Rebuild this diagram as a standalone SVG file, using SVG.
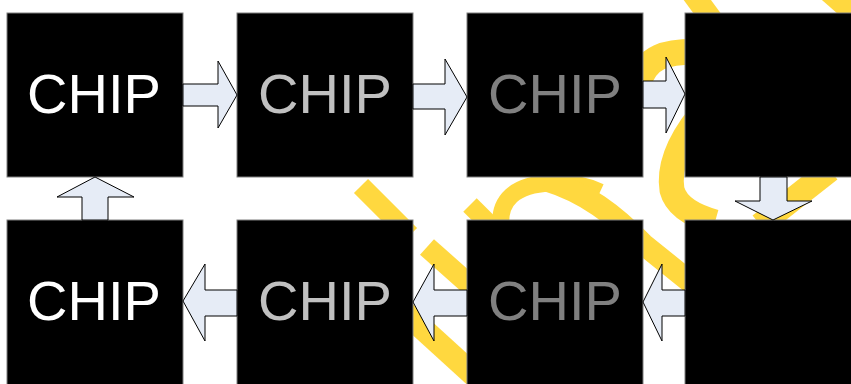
<svg xmlns="http://www.w3.org/2000/svg" width="851" height="384" viewBox="0 0 851 384">
<style>
.wm{fill:none;stroke:#FFD83F;stroke-linecap:butt}
.box{fill:#000;stroke:#7f7f7f;stroke-width:1}
.lbl{font-family:"Liberation Sans",Arial,sans-serif;font-size:56px;text-anchor:middle}
.arr{fill:#E6ECF6;stroke:#000;stroke-width:1;stroke-linejoin:miter}
</style>
<rect width="851" height="384" fill="#fff"/>
<g id="watermark">
<path class="wm" stroke-width="20" d="M361,186 L410,235"/>
<path class="wm" stroke-width="21" d="M427,247 L500,312"/>
<path class="wm" stroke-width="23" d="M400,308 L490,390"/>
<path class="wm" stroke-width="19" d="M470,205 L505,240"/>
<path class="wm" stroke-width="17" d="M501,228 C498,200 515,185 550,183 C570,182 585,185 600,192"/>
<path class="wm" stroke-width="22" d="M545,180 C585,192 615,215 643,244 L705,294"/>
<path class="wm" stroke-width="26" d="M638,85 C645,57 665,50 705,52"/>
<path class="wm" stroke-width="25" d="M700,115 C680,140 668,165 672,190 C676,205 690,215 715,222"/>
<path class="wm" stroke-width="24" d="M830,170 L760,225"/>
<path class="wm" stroke-width="22" d="M690,-10 L712,20"/>
<path class="wm" stroke-width="20" d="M820,-15 L860,20"/>
</g>
<g id="chip1"><rect class="box" x="7" y="13" width="176" height="164"/><text class="lbl" x="94" y="113" fill="#fff">CHIP</text></g>
<g id="chip2"><rect class="box" x="237" y="13" width="176" height="164"/><text class="lbl" x="325" y="113" fill="#C0C0C0">CHIP</text></g>
<g id="chip3"><rect class="box" x="467" y="13" width="176" height="164"/><text class="lbl" x="555" y="113" fill="#808080">CHIP</text></g>
<g id="chip4"><rect class="box" x="685" y="13" width="176" height="164"/></g>
<g id="chip5"><rect class="box" x="685" y="220" width="176" height="170"/></g>
<g id="chip6"><rect class="box" x="467" y="220" width="176" height="170"/><text class="lbl" x="555" y="320" fill="#808080">CHIP</text></g>
<g id="chip7"><rect class="box" x="237" y="220" width="176" height="170"/><text class="lbl" x="325" y="320" fill="#C0C0C0">CHIP</text></g>
<g id="chip8"><rect class="box" x="7" y="220" width="176" height="170"/><text class="lbl" x="94" y="320" fill="#fff">CHIP</text></g>
<g id="connectors">
<path class="arr" d="M183,84 L218,84 L218,61 L237,95 L218,128 L218,106 L183,106 Z"/>
<path class="arr" d="M413,84 L445,84 L445,59 L467,97 L445,135 L445,109 L413,109 Z"/>
<path class="arr" d="M643,81 L666,81 L666,57 L685,94 L666,133 L666,108 L643,108 Z"/>
<path class="arr" d="M760,177 L760,201 L735,201 L773,220 L812,201 L787,201 L787,177 Z"/>
<path class="arr" d="M685,290 L662,290 L662,264 L643,302 L662,341 L662,316 L685,316 Z"/>
<path class="arr" d="M467,290 L434,290 L434,264 L413,302 L434,341 L434,316 L467,316 Z"/>
<path class="arr" d="M237,290 L205,290 L205,264 L183,301 L205,341 L205,316 L237,316 Z"/>
<path class="arr" d="M82,220 L82,197 L57,197 L95,177 L134,197 L108,197 L108,220 Z"/>
</g>
</svg>
